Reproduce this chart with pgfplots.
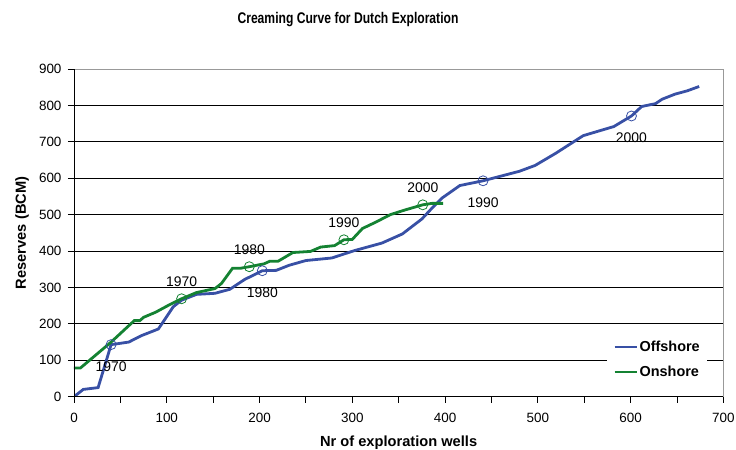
\documentclass[border=0pt]{standalone}
\usepackage{fontspec}
\setmainfont{Liberation Sans}
\usepackage{pgfplots}
\pgfplotsset{compat=1.18}
\definecolor{offblue}{RGB}{56,80,165}
\definecolor{ongreen}{RGB}{20,130,50}
\begin{document}
\begin{tikzpicture}
\useasboundingbox (-74bp,-53.3bp) rectangle (662bp,396.7bp);
\begin{axis}[
  at={(0,0)}, anchor=south west,
  scale only axis, width=649.3bp, height=327.7bp,
  xmin=0, xmax=700, ymin=0, ymax=900,
  xtick={0,100,...,700}, minor xtick={50,150,...,650},
  ytick={0,100,...,900},
  tick pos=left, tick align=outside,
  major tick length=6bp, minor tick length=6bp,
  ymajorgrids, grid style={black, line width=0.8bp},
  axis line style={draw=gray!80, line width=0.8bp},
  tick style={black, line width=0.8bp},
  minor tick style={black, line width=0.8bp},
  /pgf/number format/assume math mode=true,
  ticklabel style={font=\fontsize{13.5}{15}\selectfont},
  xticklabel style={yshift=-7bp},
  yticklabel style={xshift=-3bp},
  every axis title shift=0pt,
  title={\scalebox{0.785}[1]{Creaming Curve for Dutch Exploration}},
  title style={at={(axis description cs:0.422,1.1495)}, anchor=center, font=\bfseries\fontsize{15.5}{18}\selectfont},
  xlabel={Nr of exploration wells},
  xlabel style={at={(axis description cs:0.5,-0.141)}, anchor=center, font=\bfseries\fontsize{14.7}{17}\selectfont},
  ylabel={Reserves (BCM)},
  ylabel style={at={(axis description cs:-0.0801,0.5)}, anchor=center, rotate=0, font=\bfseries\fontsize{14.7}{17}\selectfont},
  legend style={at={(axis description cs:0.821,0.1135)}, anchor=west, draw=none, fill=white,
    font=\bfseries\fontsize{14.5}{16}\selectfont, inner xsep=6bp, inner ysep=4bp, row sep=10bp,
    nodes={inner sep=1.5bp}},
  legend cell align=left,
  legend image code/.code={\draw[#1] (0bp,0bp) -- (22bp,0bp);},
]
\addplot[offblue, line width=2.8bp] coordinates {
(1,2) (10,20) (26,25) (40,143) (59,150) (73,168) (91,186) (107,247) (116,265)
(132,281) (152,284) (168,295) (184,322) (203,346) (218,347) (232,361) (250,374)
(278,381) (302,401) (332,422) (354,447) (375,488) (386,518) (397,546) (416,580)
(441,593) (480,619) (497,635) (519,668) (549,717) (582,742) (601,771) (612,797)
(627,805) (634,817) (648,831) (661,840) (674,852)
};
\addlegendentry{Offshore\hspace{10bp}}
\addplot[ongreen, line width=2.8bp] coordinates {
(0,79) (7,79) (40,150) (65,209) (71,209) (75,218) (88,232) (104,254) (116,269)
(132,286) (152,297) (159,311) (171,353) (180,353) (189,357) (205,365) (211,372)
(220,372) (236,396) (255,399) (266,411) (281,415) (291,431) (300,432) (311,462)
(325,479) (341,500) (357,513) (376,527) (386,531) (398,531)
};
\addlegendentry{Onshore}
\addplot[forget plot, only marks, mark=o, mark size=5bp, mark options={draw=offblue, line width=0.8bp},
  nodes near coords, point meta=explicit symbolic,
  every node near coord/.style={anchor=center, yshift=-22bp, font=\fontsize{14}{16}\selectfont, text=black}]
  coordinates {(40,143)[1970] (203,346)[1980] (441,593)[1990] (601,771)[2000]};
\addplot[forget plot, only marks, mark=o, mark size=5bp, mark options={draw=ongreen, line width=0.8bp},
  nodes near coords, point meta=explicit symbolic,
  every node near coord/.style={anchor=center, yshift=17.5bp, font=\fontsize{14}{16}\selectfont, text=black}]
  coordinates {(116,269)[1970] (189,357)[1980] (291,431)[1990] (376,527)[2000]};
\draw[black, line width=0.8bp] (axis cs:0,900) -- (axis cs:0,0) -- (axis cs:700,0);
\end{axis}
\end{tikzpicture}
\end{document}
